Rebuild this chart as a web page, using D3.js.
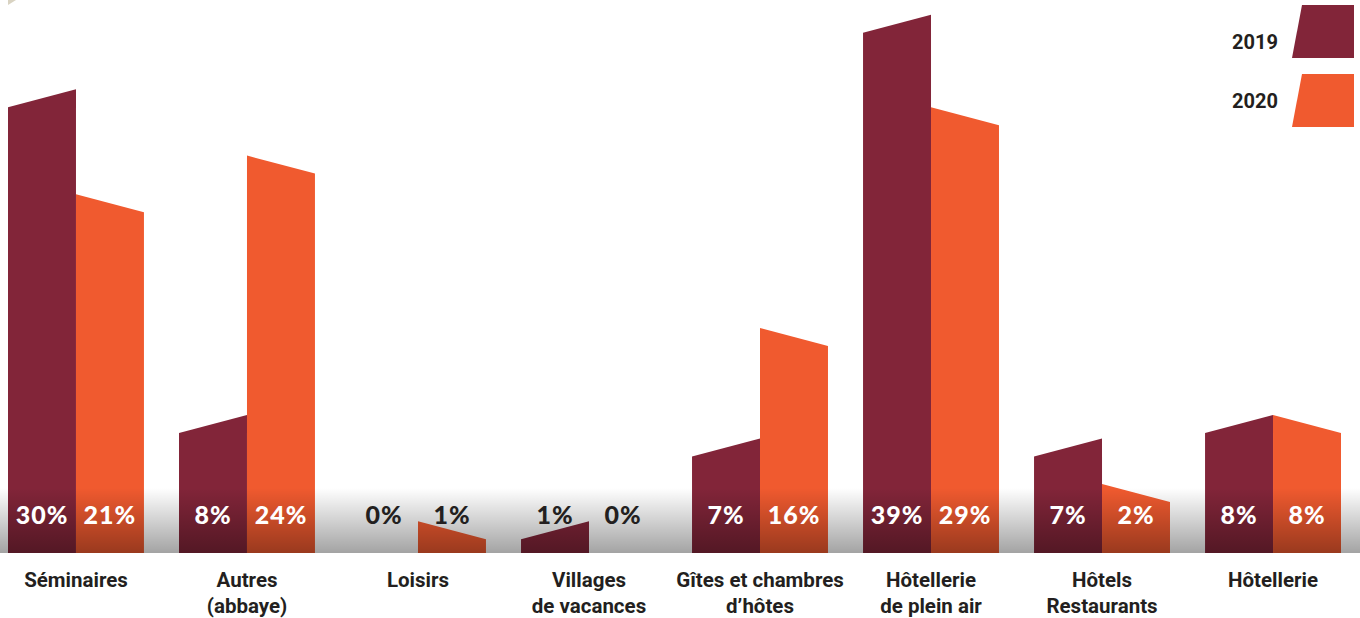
<!DOCTYPE html>
<html>
<head>
<meta charset="utf-8">
<script src="https://cdn.jsdelivr.net/npm/d3@7"></script>
<style>
  html, body { margin: 0; padding: 0; background: #fff; }
  svg { display: block; }
  .cat-label { font-family: Roboto, "DejaVu Sans", sans-serif; font-weight: 700; font-size: 20.5px; fill: #231f20; }
  .pct-label { font-family: Lato, "Open Sans", sans-serif; font-weight: 900; font-size: 25px; letter-spacing: 1px; }
  .legend-label { font-family: Roboto, sans-serif; font-weight: 700; font-size: 20px; fill: #231f20; }
</style>
</head>
<body>
<div id="chart"></div>
<script>
// categories (two-line labels split on "|")
const categories = ['Séminaires', 'Autres|(abbaye)', 'Loisirs', 'Villages|de vacances',
    'Gîtes et chambres|d’hôtes', 'Hôtellerie|de plein air', 'Hôtels|Restaurants', 'Hôtellerie'];
const years = ['2019', '2020'];
// percentages printed on the bars
const pct2019 = [30, 8, 0, 1, 7, 39, 7, 8];
const pct2020 = [21, 24, 1, 0, 16, 29, 2, 8];
const bar2019 = [33.6, 10.0, 0, 2.3, 8.3, 39.0, 8.3, 10.0];
const bar2020 = [26.0, 28.8, 2.3, 0, 16.3, 32.3, 5.0, 10.0];

const colors = { '2019': '#822539', '2020': '#f05a2f' };

const width = 1360, height = 618;
const baseline = 553;

const svg = d3.select('#chart').append('svg')
    .attr('width', width)
    .attr('height', height);

let defs = svg.append('defs');
let shade = defs.append('linearGradient')
    .attr('id', 'shade')
    .attr('x1', 0).attr('y1', 0).attr('x2', 0).attr('y2', 1);
shade.append('stop').attr('offset', '0%').attr('stop-color', '#000').attr('stop-opacity', 0);
shade.append('stop').attr('offset', '100%').attr('stop-color', '#000').attr('stop-opacity', 0.36);

// small decorative corner
svg.append('path').attr('d', 'M8,0 L16,0 L8,5 Z').attr('fill', '#d9d3c2');

let xScale = d3.scaleBand()
    .domain(categories)
    .range([8, 1341])
    .paddingInner(0.205)
    .paddingOuter(0);

let xYear = d3.scaleBand()
    .domain(years)
    .range([0, xScale.bandwidth()]);

let yScale = d3.scaleLinear()
    .domain([0, 40])
    .range([baseline, baseline - 552]);

let slant = 18;

let barData = [];
categories.forEach((c, i) => {
    barData.push({ cat: c, year: '2019', value: bar2019[i], pct: pct2019[i] });
    barData.push({ cat: c, year: '2020', value: bar2020[i], pct: pct2020[i] });
});

// 2019 bars rise to the right, 2020 bars fall to the right
function barPath(d) {
    let x0 = xScale(d.cat) + xYear(d.year);
    let x1 = x0 + xYear.bandwidth();
    let top = yScale(d.value);
    let yl = d.year === '2019' ? top + slant : top;
    let yr = d.year === '2019' ? top : top + slant;
    return `M${x0},${baseline} L${x0},${yl} L${x1},${yr} L${x1},${baseline} Z`;
}

svg.append('g').attr('id', 'bars')
    .selectAll('path')
    .data(barData.filter(d => d.value > 0))
    .join('path')
    .attr('d', barPath)
    .attr('fill', d => colors[d.year]);

// bottom shading band
svg.append('rect')
    .attr('x', 0).attr('y', 488)
    .attr('width', width).attr('height', baseline - 488)
    .attr('fill', 'url(#shade)');

// percentage labels
svg.append('g').attr('id', 'pct-labels')
    .selectAll('text')
    .data(barData)
    .join('text')
    .classed('pct-label', true)
    .attr('x', d => xScale(d.cat) + xYear(d.year) + xYear.bandwidth() / 2)
    .attr('y', 524)
    .attr('text-anchor', 'middle')
    .attr('fill', d => (baseline - yScale(d.value)) > 60 ? '#ffffff' : '#231f20')
    .text(d => d.pct + '%');

// category labels
let catGroup = svg.append('g').attr('id', 'cat-labels')
    .selectAll('text')
    .data(categories)
    .join('text')
    .classed('cat-label', true)
    .attr('text-anchor', 'middle')
    .attr('transform', d => `translate(${xScale(d) + xScale.bandwidth() / 2},587)`);
catGroup.selectAll('tspan')
    .data(d => d.split('|'))
    .join('tspan')
    .attr('x', 0)
    .attr('y', (d, i) => i * 26)
    .text(d => d);

// legend
let legend = svg.append('g').attr('id', 'legend')
    .selectAll('g')
    .data(years)
    .join('g')
    .attr('transform', (d, i) => `translate(0,${5 + i * 69})`);
legend.append('path')
    .attr('d', 'M1302,0 L1354,0 L1354,53 L1292,53 Z')
    .attr('fill', d => colors[d]);
legend.append('text')
    .classed('legend-label', true)
    .attr('x', 1278)
    .attr('y', (d, i) => i === 0 ? 44 : 34)
    .attr('text-anchor', 'end')
    .text(d => d);
</script>
</body>
</html>
